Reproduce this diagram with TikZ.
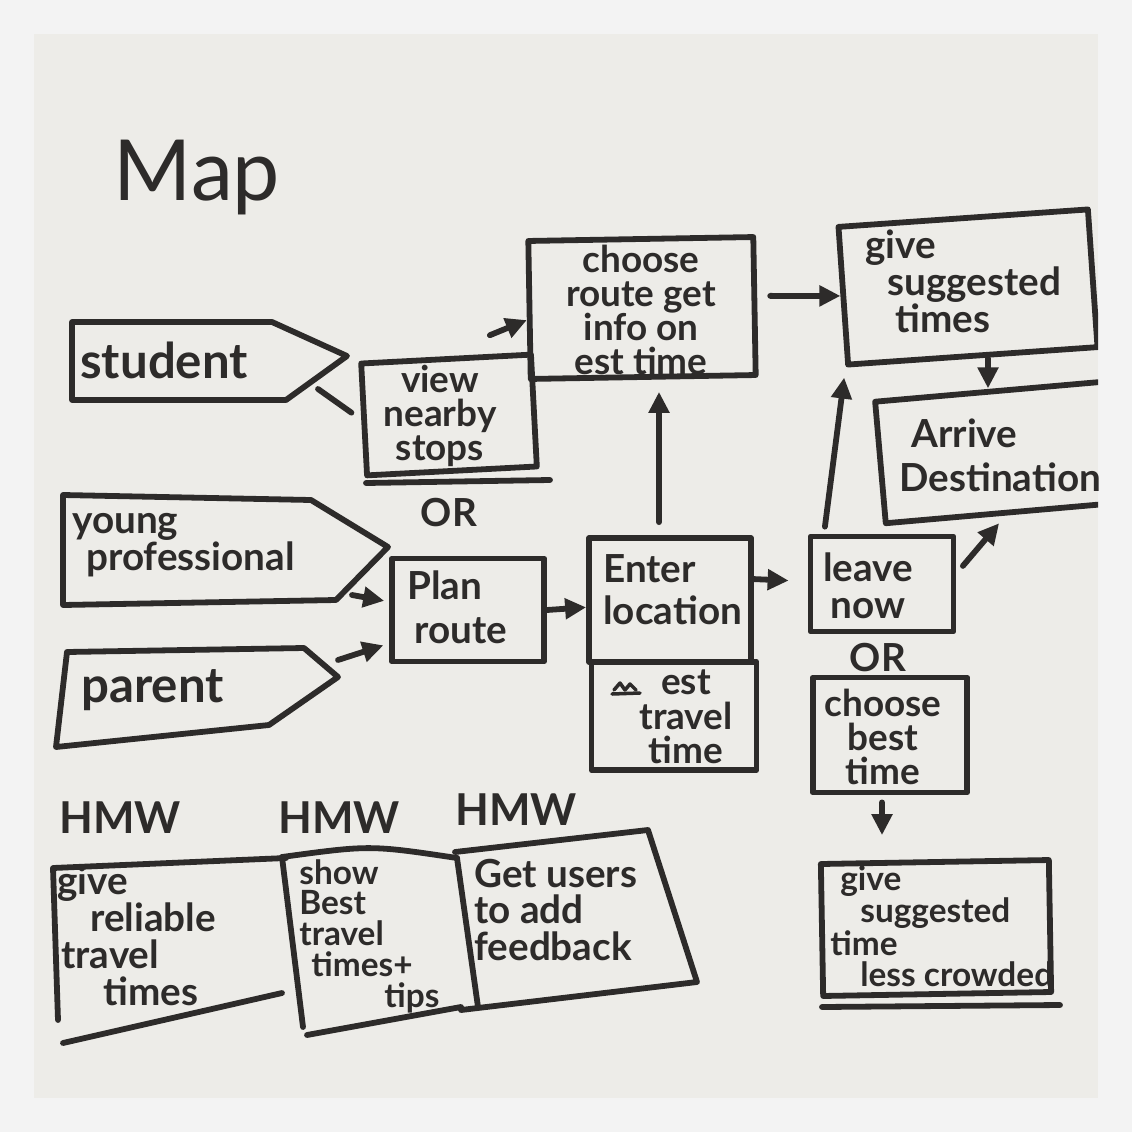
\documentclass[tikz,border=0pt]{standalone}
\usepackage{fontspec}
\setmainfont{Lato}
\usetikzlibrary{arrows.meta,calc}
\definecolor{inkc}{RGB}{45,43,42}
\definecolor{paper}{RGB}{237,236,232}
\definecolor{framec}{RGB}{243,243,243}
\newcommand{\handA}{\fontsize{22}{21}\selectfont\bfseries}
\newcommand{\handM}{\fontsize{21}{19.5}\selectfont\bfseries}
\newcommand{\handS}{\fontsize{19}{17.5}\selectfont\bfseries}
\newcommand{\handL}{\fontsize{28}{24}\selectfont\bfseries}
\begin{document}
\begin{tikzpicture}[x=0.02cm,y=-0.02cm,
  ink/.style={draw=inkc,line width=3.3pt,line join=round,line cap=round},
  bx/.style 2 args={ink,rectangle,inner sep=0pt,minimum width=#1*0.02cm,minimum height=#2*0.02cm},
  txt/.style={text=inkc,font=\handA,inner sep=0pt,align=center},
  ltxt/.style={txt,align=left,anchor=west},
  arr/.style={ink,-{Triangle[length=0.42cm,width=0.4cm]}},
]
\useasboundingbox (0,0) rectangle (1132,1132);
\fill[framec] (0,0) rectangle (1132,1132);
\fill[paper] (34,34) rectangle (1098,1098);
\begin{scope}
\clip (34,34) rectangle (1098,1098);

% title
\node[txt,font=\fontsize{48}{48}\selectfont] (tmap) at (197,178) {Map};

% personas
\draw[ink] (72,322) -- (272,322) -- (347,356) -- (286,400) -- (72,400) -- cycle;
\node[ltxt,font=\handL] (tstudent) at (80,360) {student};
\coordinate (stuout) at (318,389);

\draw[ink] (63,495) -- (311,500) -- (388,547) -- (336,600) -- (63,605) -- cycle;
\node[ltxt] (tyoung) at (72,545) {young\\\hspace*{0.28cm}professional};
\coordinate (ypout) at (352,595);

\draw[ink] (67,652) -- (304,648) -- (338,677) -- (269,725) -- (56,747) -- cycle;
\node[ltxt,font=\handL] (tparent) at (81,690) {parent};
\coordinate (parout) at (338,660);

% boxes with connectors
\node[bx={225}{138},rotate=1] (choose) at (642,308) {};
\node[txt,font=\handM] (tchoose) at (641,310) {choose\\route get\\info on\\est time};

\node[bx={250}{138},rotate=4] (give) at (968,287) {};
\node[ltxt] (tgive) at (865,281) {give\\\hspace*{0.44cm}suggested\\\hspace*{0.6cm}times};

\node[bx={240}{122},rotate=5] (arrive) at (1000,452) {};
\node[ltxt] (tarrive) at (899,455) {\hspace*{0.24cm}Arrive\\[4pt]Destination};

\node[bx={170}{112},rotate=3] (view) at (449,415) {};
\node[txt,font=\handM] (tview) at (440,416) {view\\nearby\\stops};
\coordinate (vul1) at (366,483);
\coordinate (vul2) at (550,480);
\draw[ink] (vul1) -- (vul2);
\node[txt] (or1) at (449,513) {OR};

\node[bx={152}{103}] (plan) at (468,610) {};
\node[ltxt] (tplan) at (407,607) {Plan\\[4pt]\hspace*{0.14cm}route};

\node[bx={162}{124}] (enter) at (670,600) {};
\node[ltxt] (tenter) at (603,590) {Enter\\[3pt]location};

\node[bx={165}{108}] (esttt) at (674,716) {};
\node[txt,font=\handM] (testtt) at (686,717) {est\\travel\\time};
\draw[ink,line width=2pt] (614,690) -- (620,683) -- (625,690) -- (630,684) -- (636,690);
\draw[ink,line width=2pt] (612,694) -- (640,693);

\node[bx={143}{95}] (leave) at (882,584) {};
\node[txt] (tleave) at (868,586) {leave\\now};
\node[txt] (or2) at (878,658) {OR};

\node[bx={154}{115}] (best) at (890,735) {};
\node[txt,font=\handM] (tbest) at (883,737) {choose\\best\\time};

\node[bx={228}{132},rotate=1] (crowd) at (936,928) {};
\node[ltxt,font=\handS] (tcrowd) at (830,926) {\hspace*{0.2cm}give\\\hspace*{0.6cm}suggested\\time\\\hspace*{0.6cm}less crowded};
\coordinate (cul1) at (822,1007);
\coordinate (cul2) at (1060,1005);
\draw[ink] (cul1) -- (cul2);

% connectors
\draw[ink,shorten >=0.24cm] (stuout) -- (view.west);
\draw[arr,shorten >=0.1cm] (ypout) -- (plan.174);
\draw[arr,shorten >=0.12cm] (parout) -- (plan.203);
\draw[arr] (plan.east) -- (enter.185);
\draw[arr,shorten <=0.26cm,shorten >=0.24cm] ([xshift=-0.22cm]enter.north) -- ([xshift=-0.22cm]enter.north |- choose.south);
\draw[arr] ($(view.north)+(44,-21)$) -- (choose.185);
\draw[arr,shorten <=0.26cm] (choose.5) -- (give.west);
\draw[arr] ([xshift=0.3cm]give.south) -- ([xshift=0.3cm]give.south |- arrive.north);
\draw[arr,shorten >=0.38cm] (enter.14) -- (leave.178);
\draw[arr,shorten <=0.14cm,shorten >=0.2cm] (leave.139) -- (give.south west);
\draw[arr,shorten <=0.2cm,shorten >=0.2cm] (leave.8) -- (arrive.south);
\draw[arr,shorten <=0.14cm,shorten >=0.48cm] ([xshift=-0.16cm]best.south) -- ([xshift=-0.16cm]best.south |- crowd.north);

% HMW
\node[txt,font=\fontsize{25}{25}\selectfont\bfseries] (hmw1) at (120,818) {HMW};
\node[txt,font=\fontsize{25}{25}\selectfont\bfseries] (hmw2) at (339,818) {HMW};
\node[txt,font=\fontsize{25}{25}\selectfont\bfseries] (hmw3) at (516,810) {HMW};

\draw[ink] (58,1020) -- (53,868) -- (286,858);
\draw[ink] (63,1043) -- (282,993);
\node[ltxt] (tb1) at (57,936) {give\\\hspace*{0.66cm}reliable\\\hspace*{0.08cm}travel\\\hspace*{0.92cm}times};

\draw[ink] (282,857) -- (303,1027);
\draw[ink] (282,857) .. controls (370,845) .. (457,858);
\draw[ink] (307,1035) -- (461,1007);
\draw[ink] (457,858) -- (478,1007);
\node[ltxt,font=\fontsize{19}{17.5}\selectfont\bfseries] (tb2) at (299,936) {show\\Best\\travel\\\hspace*{0.24cm}times+\\\hspace*{1.7cm}tips};

\draw[ink] (455,852) -- (648,830) -- (697,982) -- (461,1010);
\node[ltxt] (tb3) at (474,910) {Get users\\to add\\feedback};

\end{scope}
\end{tikzpicture}
\end{document}
